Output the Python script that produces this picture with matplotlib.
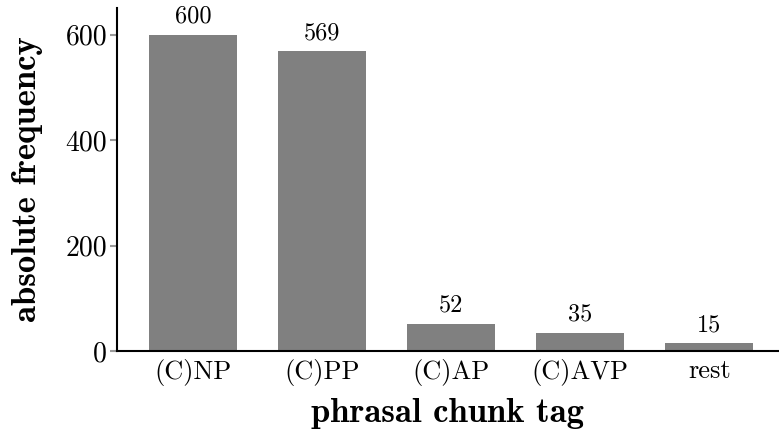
import matplotlib
matplotlib.use('Agg')
import matplotlib.pyplot as plt
import numpy as np

# chunk tag counts
tags = ['(C)NP', '(C)PP', '(C)AP', '(C)AVP', 'rest']
counts = [600, 569, 52, 35, 15]
yticks = [0, 200, 400, 600]

fig = plt.figure(figsize=(7.79, 4.34), dpi=100)
ax = fig.add_axes([0.150, 0.191, 0.850, 0.791])

x = np.arange(len(tags))
bars = ax.bar(x, counts, width=0.68, color='#808080', zorder=2)

for b, c in zip(bars, counts):
    ax.annotate(str(c), (b.get_x() + b.get_width() / 2, b.get_height()),
                xytext=(0, 5), textcoords='offset points',
                ha='center', va='bottom', family='cmr10', fontsize=17.5)

ax.set_xlim(-0.589, 4.54)
ax.set_ylim(0, 651)
ax.set_xticks(x)
ax.set_xticklabels(tags, family='cmr10', fontsize=19)
ax.set_yticks(yticks)
ax.set_yticklabels([str(v) for v in yticks], family='cmr10', fontsize=20)
ax.tick_params(axis='x', length=0, pad=6)
ax.tick_params(axis='y', length=5, width=1.5, color='#999999', pad=2)

for s in ['top', 'right']:
    ax.spines[s].set_visible(False)
for s in ['left', 'bottom']:
    ax.spines[s].set_linewidth(1.5)

ax.set_xlabel('phrasal chunk tag', family='cmb10', fontsize=25, labelpad=8)
ax.set_ylabel('absolute frequency', family='cmb10', fontsize=25, labelpad=16)

fig.savefig('out.png', dpi=100)
